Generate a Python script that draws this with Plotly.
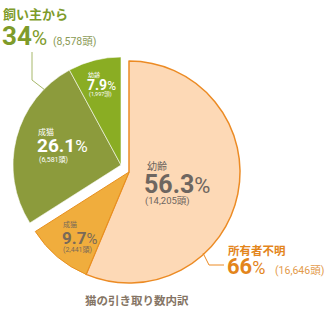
import plotly.graph_objects as go

# ---- data ----
slice_labels = ["幼齢", "成猫", "成猫", "幼齢"]
slice_counts = [14205, 2441, 6581, 1997]
slice_pcts = ["56.3", "9.7", "26.1", "7.9"]
slice_count_text = ["(14,205頭)", "(2,441頭)", "(6,581頭)", "(1,997頭)"]
group_names = ["所有者不明", "飼い主から"]
group_pcts = ["66", "34"]
group_counts = ["(16,646頭)", "(8,578頭)"]
title_text = "猫の引き取り数内訳"

W, H = 330, 328
CLEAR = "rgba(0,0,0,0)"
FONT = "Roboto, 'Noto Sans CJK JP', sans-serif"
JP = "'Noto Sans CJK JP', Roboto, sans-serif"

def dom(cx, cy, r):
    return dict(x=[(cx - r) / W, (cx + r) / W], y=[1 - (cy + r) / H, 1 - (cy - r) / H])

fig = go.Figure()

# orange group (所有者不明)
fig.add_trace(go.Pie(
    values=slice_counts, labels=[f"{i}" for i in range(4)], sort=False,
    direction="clockwise", rotation=0, textinfo="none", hoverinfo="skip",
    marker=dict(colors=["#fdd9b6", "#f0ad3d", CLEAR, CLEAR],
                line=dict(color=["#ec8b24", "#e8901f", CLEAR, CLEAR], width=[1.5, 1, 0, 0])),
    domain=dom(129, 172, 111), showlegend=False,
))
# green group (飼い主から)
fig.add_trace(go.Pie(
    values=slice_counts, labels=[f"{i}" for i in range(4)], sort=False,
    direction="clockwise", rotation=0, textinfo="none", hoverinfo="skip",
    marker=dict(colors=[CLEAR, CLEAR, "#8c9b3c", "#8aad23"],
                line=dict(color=[CLEAR, CLEAR, "rgba(255,255,255,0.7)", "rgba(255,255,255,0.7)"],
                          width=[0, 0, 0.8, 0.8])),
    domain=dom(121, 165, 108), showlegend=False,
))

ann = []
def T(px, py, text, size, color, family=FONT, anchor="left"):
    ann.append(dict(x=px / W, y=1 - py / H, xref="paper", yref="paper", text=text,
                    showarrow=False, xanchor=anchor, yanchor="middle", borderpad=0,
                    font=dict(size=size, color=color, family=family)))

def pct(num, pct_size):
    return f"<b>{num}</b><span style='font-size:{pct_size}px'>%</span>"

grey = "#6e6660"
# peach slice
T(146, 165, slice_labels[0], 10, grey, family=JP)
T(143, 184, pct(slice_pcts[0], 22), 25, grey)
T(144, 201, slice_count_text[0], 9.5, grey)
# orange slice
T(62, 224, slice_labels[1], 7, "#7a6a58", family=JP)
T(61, 238, pct(slice_pcts[1], 15), 17, "#7a6a58")
T(62, 250, slice_count_text[1], 7, "#7a6a58")
# olive slice
T(37, 131, slice_labels[2], 8, "white", family=JP)
T(36, 146, pct(slice_pcts[2], 17), 19, "white")
T(38, 160, slice_count_text[2], 7, "white")
# green slice
T(87, 74, slice_labels[3], 6, "white", family=JP)
T(86, 85, pct(slice_pcts[3], 12), 14, "white")
T(88, 95, slice_count_text[3], 5.5, "white")

# group labels
gc = "#7e9b2a"
T(2, 13, f"<b>{group_names[1]}</b>", 13, gc, family=JP)
T(1, 36, pct(group_pcts[1], 21), 26, gc)
T(52, 41, group_counts[1], 10.5, "#8a9a55")
oc = "#e3851b"
T(227, 250, f"<b>{group_names[0]}</b>", 11.5, oc, family=JP)
T(226, 266, pct(group_pcts[0], 18), 22, oc)
T(274, 270, group_counts[0], 10.5, "#e39a4a")

# title
T(84, 300, f"<b>{title_text}</b>", 11.5, "#857565", family=JP)

shapes = []
def L(x0, y0, x1, y1, color):
    shapes.append(dict(type="line", xref="paper", yref="paper", x0=x0 / W, y0=1 - y0 / H,
                       x1=x1 / W, y1=1 - y1 / H, line=dict(color=color, width=1)))
L(32, 52, 32, 80, "#a7b86a")
L(32, 80, 45, 90, "#a7b86a")
L(203, 253, 209, 265, "#ec8b24")
L(209, 265, 224, 265, "#ec8b24")

fig.update_layout(width=W, height=H, margin=dict(l=0, r=0, t=0, b=0),
                  paper_bgcolor="white", plot_bgcolor="white",
                  annotations=ann, shapes=shapes)
fig.write_html("out.html")
